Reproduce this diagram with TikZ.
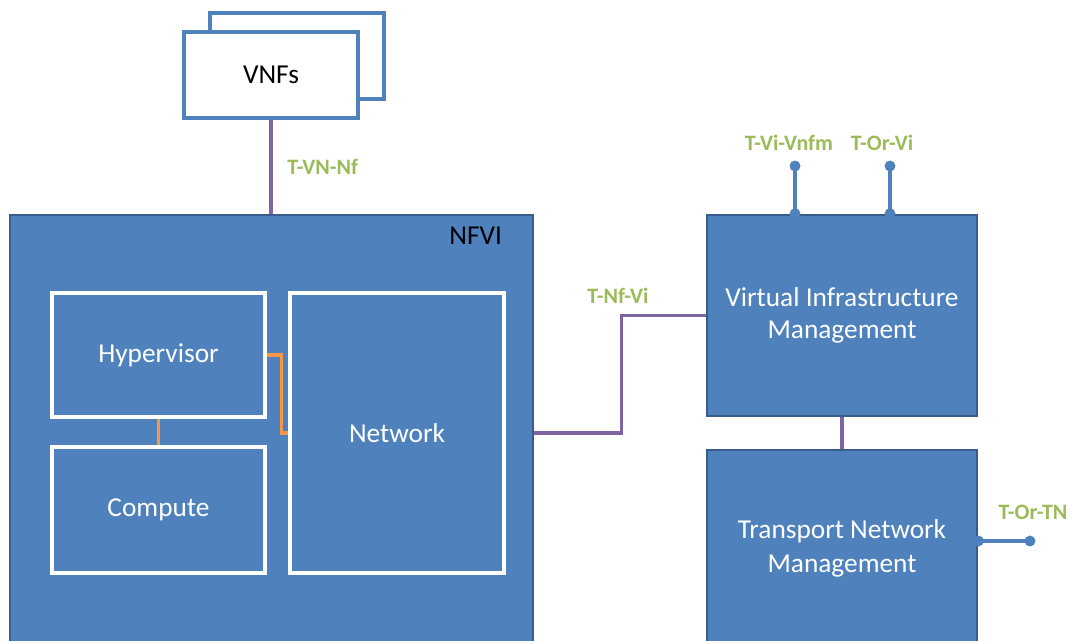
\documentclass[tikz,border=0pt]{standalone}
\usepackage{fontspec}
\setmainfont{Carlito}
\usepackage{xcolor}
\usetikzlibrary{arrows.meta,positioning,calc}

\begin{document}
\begin{tikzpicture}[x=0.75pt,y=-0.75pt]
    \definecolor{myblue}{RGB}{79,129,189}
    \definecolor{myblued}{RGB}{56,93,138}
    \definecolor{mypurple}{RGB}{128,100,162}
    \definecolor{myorange}{RGB}{247,150,70}
    \definecolor{mygreen}{RGB}{155,187,89}
    \def\px{0.75pt}

    \fontsize{20.5}{25.5}\selectfont  % font size
    \tikzstyle{block}=[rectangle,draw=myblued,line width=2pt,fill=myblue,text=white,align=center,inner sep=0pt]  % big blue blocks
    \tikzstyle{inner}=[rectangle,draw=white,line width=2.6pt,fill=myblue,text=white,align=center,inner sep=0pt]  % white framed parts inside NFVI
    \tikzstyle{vnfbox}=[rectangle,draw=myblue,line width=2.4pt,fill=white,inner sep=0pt]  % stacked VNF boxes
    \tikzstyle{purp}=[draw=mypurple,line width=2.6pt]  % reference points
    \tikzstyle{orng}=[draw=myorange,line width=2.6pt]  % internal links
    \tikzstyle{pin}=[draw=myblue,line width=2.6pt,{Circle[length=8pt]}-{Circle[length=8pt]},shorten <=-4pt,shorten >=-4pt]
    \tikzstyle{ref}=[text=mygreen,font=\fontsize{16.5}{19}\selectfont\bfseries,inner sep=0pt]

    \useasboundingbox (0,0) rectangle (1072,640);

    % VNFs
    \node[vnfbox,minimum width=174*\px,minimum height=86*\px] (vnfback) at (297,56) {};
    \node[vnfbox,minimum width=174*\px,minimum height=86*\px] (vnf) at (271,75) {VNFs};

    % NFVI
    \node[block,minimum width=523*\px,minimum height=445*\px] (nfvi) at (271.5,437.5) {};
    \node[anchor=north east,inner sep=0pt] (nfvilabel) at ($(nfvi.north east)+(-32,13)$) {NFVI};
    \node[inner,minimum width=213*\px,minimum height=124*\px] (hyper) at (158.5,355) {\raisebox{-3pt}{Hypervisor}};
    \node[inner,minimum width=213*\px,minimum height=126*\px] (compute) at (158.5,510) {\raisebox{-3pt}{Compute}};
    \node[inner,minimum width=214*\px,minimum height=280*\px] (network) at (397,433) {Network};

    % management blocks
    \node[block,minimum width=270*\px,minimum height=201*\px] (vim) at (842,315.5) {\raisebox{-2pt}{Virtual Infrastructure}\\Management};
    \node[block,minimum width=270*\px,minimum height=230*\px] (tnm) at (842,565) {};
    \node (tnmlabel) at (842,548) [text=white,align=center,inner sep=0pt] {Transport Network\\Management};

    % links inside NFVI
    \draw[orng] (hyper) -- (compute);
    \draw[orng] (hyper.east) -- ++(15,0) |- (network.west);

    % reference points
    \draw[purp] (vnf.south) -- node[ref,right=11pt] (tvnnf) {T-VN-Nf} (vnf.south |- nfvi.north);
    \draw[purp] (nfvi.east |- network) -- ++(87,0) coordinate (nfvibend) |- (vim.west);
    \node[ref] (tnfvi) at (618,296) {T-Nf-Vi};
    \draw[purp] (vim) -- (tnm);

    \coordinate (pinvnfm) at (795,166);
    \coordinate (pinorvi) at (890,166);
    \coordinate (pinortn) at (1030,541);
    \draw[pin] (pinvnfm |- vim.north) -- (pinvnfm);
    \draw[pin] (pinorvi |- vim.north) -- (pinorvi);
    \draw[pin] (pinortn -| tnm.east) -- (pinortn);
    \node[ref] (tvivnfm) at (789,143) {T-Vi-Vnfm};
    \node[ref] (torvi) at (882,143) {T-Or-Vi};
    \node[ref] (tortn) at (1033,512) {T-Or-TN};
\end{tikzpicture}
\end{document}
